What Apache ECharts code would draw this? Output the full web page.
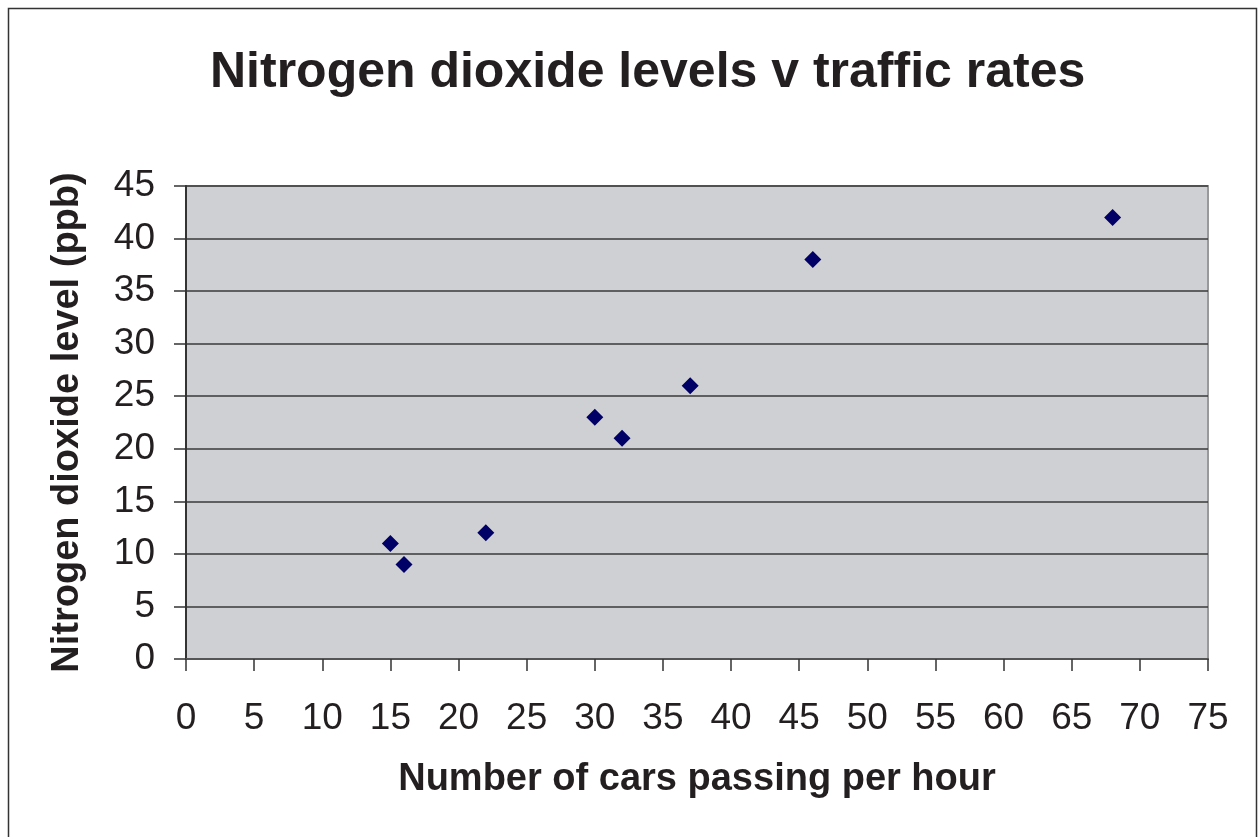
<!DOCTYPE html>
<html><head><meta charset="utf-8">
<script src="https://cdn.jsdelivr.net/npm/echarts@6/dist/echarts.min.js"></script>
<style>html,body{margin:0;padding:0;background:#fff}#c{width:1258px;height:837px}</style>
</head><body><div id="c"></div>
<script>
const carsPerHour = [15, 16, 22, 30, 32, 37, 46, 68];
const no2Levels = [11, 9, 12, 23, 21, 26, 38, 42];
const titleText = 'Nitrogen dioxide levels v traffic rates';
const xTitle = 'Number of cars passing per hour';
const yTitle = 'Nitrogen dioxide level (ppb)';

const points = carsPerHour.map((x, i) => [x, no2Levels[i]]);
const font = '"Liberation Sans", Arial, sans-serif';
const chart = echarts.init(document.getElementById('c'), null, {renderer: 'canvas'});
chart.setOption({
  backgroundColor: '#fff',
  animation: false,
  graphic: [{
    type: 'rect', z: -10,
    shape: {x: 8.5, y: 8.5, width: 1248, height: 840},
    style: {fill: 'none', stroke: '#333', lineWidth: 1.5}
  }, {
    type: 'text', left: 210, top: 48, z: 10,
    style: {text: titleText, x: 0, y: 0, font: 'bold 50px "Liberation Sans", Arial, sans-serif', fill: '#231f20'}
  }],
  grid: {left: 186, top: 186, width: 1022, height: 473,
         show: true, backgroundColor: '#cfd0d4', borderColor: '#999', borderWidth: 2},
  xAxis: {
    type: 'value', min: 0, max: 75, interval: 5,
    name: xTitle, nameLocation: 'middle', nameGap: 102,
    nameTextStyle: {fontFamily: font, fontSize: 38, fontWeight: 'bold', color: '#231f20'},
    axisLine: {show: true, lineStyle: {color: '#555', width: 2}},
    axisTick: {show: true, length: 12, lineStyle: {color: '#333', width: 1.5}},
    axisLabel: {fontFamily: font, fontSize: 37, color: '#231f20', margin: 41},
    splitLine: {show: false}
  },
  yAxis: {
    type: 'value', min: 0, max: 45, interval: 5,
    name: yTitle, nameLocation: 'middle', nameGap: 99,
    nameTextStyle: {fontFamily: font, fontSize: 38, fontWeight: 'bold', color: '#231f20'},
    axisLine: {show: true, lineStyle: {color: '#333', width: 2}},
    axisTick: {show: true, length: 12, lineStyle: {color: '#333', width: 1.5}},
    axisLabel: {fontFamily: font, fontSize: 37, color: '#231f20', margin: 31},
    splitLine: {show: true, lineStyle: {color: '#3a3a3a', width: 1.5}}
  },
  series: [{
    type: 'scatter', data: points, symbol: 'diamond', symbolSize: 17,
    itemStyle: {color: '#000066', opacity: 1}
  }]
});
</script></body></html>
